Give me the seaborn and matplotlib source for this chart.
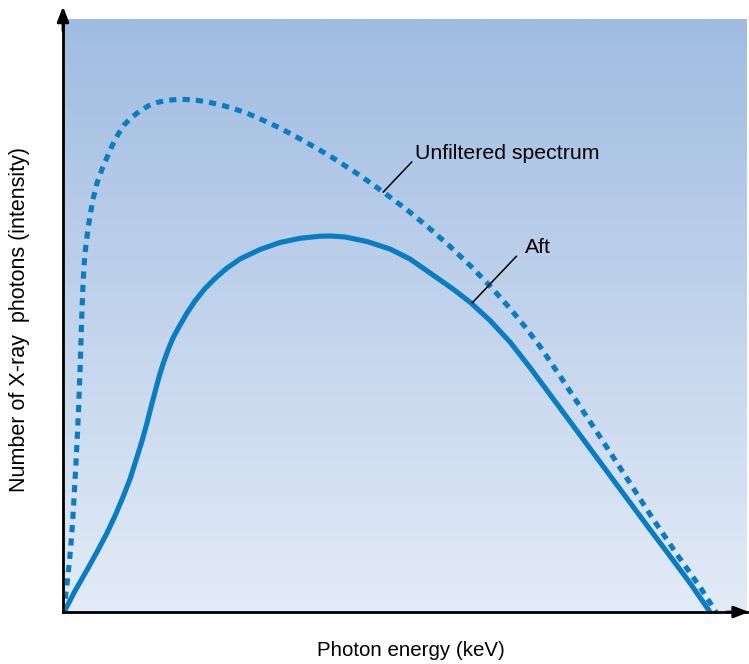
import numpy as np
import pandas as pd
import matplotlib
matplotlib.use("Agg")
import matplotlib.pyplot as plt
from matplotlib.colors import LinearSegmentedColormap
import seaborn as sns

# ---- data (arbitrary units 0-100) ----
unf_x = [0.15, 0.39, 0.66, 0.88, 1.10, 1.32, 1.51, 1.68, 1.84, 1.99,
         2.14, 2.27, 2.38, 2.49, 2.59, 2.68, 2.78, 2.89, 3.04, 3.22,
         3.44, 3.70, 4.00, 4.43, 4.93, 5.66, 6.39, 7.16, 8.08, 9.06,
         10.09, 11.26, 12.43, 13.74, 15.20, 17.11, 19.01, 21.05, 23.39, 25.44,
         27.34, 29.24, 31.29, 33.19, 35.09, 37.57, 39.77, 43.42, 46.78, 50.29,
         53.36, 56.58, 59.50, 62.43, 65.35, 67.54, 69.74, 72.66, 76.02, 79.53,
         82.89, 86.26, 89.77, 93.13, 95.47]
unf_y = [0.0, 2.87, 5.40, 7.93, 10.46, 13.83, 17.20, 20.57, 23.95, 27.32,
         30.69, 34.06, 37.44, 40.81, 44.18, 47.55, 50.93, 54.30, 57.67, 60.54,
         62.73, 64.92, 67.12, 69.81, 72.18, 74.54, 76.56, 78.58, 80.61, 82.29,
         83.47, 84.49, 85.33, 85.92, 86.29, 86.46, 86.37, 86.04, 85.41, 84.70,
         83.90, 82.93, 81.84, 80.71, 79.51, 77.88, 76.36, 73.61, 70.86, 67.82,
         64.92, 61.65, 58.45, 54.97, 51.20, 48.11, 44.77, 39.80, 33.90, 27.74,
         21.75, 15.68, 9.70, 4.22, 0.0]

aft_x = [0.15, 1.75, 3.51, 4.97, 6.43, 7.60, 8.77, 9.80, 10.82, 11.55,
         12.28, 12.87, 13.45, 14.04, 14.62, 15.35, 16.08, 17.11, 18.13, 19.30,
         20.76, 22.22, 23.98, 25.88, 28.80, 31.73, 34.65, 37.57, 39.04, 41.23,
         44.44, 47.81, 50.73, 54.09, 57.31, 59.65, 62.43, 65.35, 68.27, 71.20,
         74.12, 77.05, 79.97, 82.89, 85.82, 88.74, 91.67, 94.59]
aft_y = [0.0, 3.54, 7.08, 10.12, 13.32, 16.19, 19.39, 22.43, 26.14, 28.84,
         31.87, 34.57, 37.10, 39.63, 41.82, 44.18, 46.21, 48.40, 50.42, 52.45,
         54.55, 56.24, 58.01, 59.53, 61.13, 62.31, 63.02, 63.37, 63.41, 63.24,
         62.48, 61.21, 59.53, 56.83, 54.22, 52.11, 49.16, 45.53, 41.23, 36.68,
         32.13, 27.57, 23.02, 18.47, 13.91, 9.44, 4.89, 0.0]

labels = ["Unfiltered spectrum", "Aft"]
x_title = "Photon energy (keV)"
y_title = "Number of X-ray  photons (intensity)"

BLUE = "#0a7dc2"

sns.set_style("white")
plt.rcParams["font.family"] = ["Liberation Sans", "DejaVu Sans"]
plt.rcParams["text.color"] = "black"

fig = plt.figure(figsize=(7.49, 6.64), dpi=100)
W, H = 749, 664
ax = fig.add_axes([63 / W, (H - 612) / H, (747 - 63) / W, (612 - 19) / H])

# gradient background
cmap = LinearSegmentedColormap.from_list("bg", ["#e3ebf7", "#a0bce1"])
grad = np.linspace(0, 1, 256)[:, None]
ax.imshow(grad, extent=[0, 100, 0, 100], origin="lower", aspect="auto",
          cmap=cmap, zorder=0)

df_unf = pd.DataFrame({"x": unf_x, "y": unf_y})
df_aft = pd.DataFrame({"x": aft_x, "y": aft_y})
sns.lineplot(data=df_unf, x="x", y="y", ax=ax, color=BLUE, linewidth=3.7,
             linestyle=(0, (1.4, 1.2)), zorder=3)
sns.lineplot(data=df_aft, x="x", y="y", ax=ax, color=BLUE, linewidth=3.7,
             zorder=3, solid_capstyle="butt", solid_joinstyle="round")

ax.set_xlim(0, 100)
ax.set_ylim(0, 100)
ax.set_xticks([])
ax.set_yticks([])
ax.set_xlabel("")
ax.set_ylabel("")
for s in ["top", "right"]:
    ax.spines[s].set_visible(False)
for s in ["left", "bottom"]:
    ax.spines[s].set_color("black")
    ax.spines[s].set_linewidth(2.0)
    ax.spines[s].set_zorder(4)

# axis arrows
arrow_kw = dict(arrowstyle="-|>,head_length=0.9,head_width=0.35", color="black",
                lw=2.0, shrinkA=0, shrinkB=0)
ax.annotate("", xy=(0, 1.021), xytext=(0, 0.98), xycoords="axes fraction",
            arrowprops=arrow_kw, annotation_clip=False, zorder=5)
ax.annotate("", xy=(1.003, 0), xytext=(0.97, 0), xycoords="axes fraction",
            arrowprops=arrow_kw, annotation_clip=False, zorder=5)

# callouts
ax.plot([46.8, 51.0], [70.8, 75.9], color="black", lw=1.1, zorder=5)
ax.text(51.5, 77.4, labels[0], fontsize=15.3, va="center", ha="left",
        color="black", zorder=5)
ax.plot([59.8, 66.3], [52.1, 60.0], color="black", lw=1.1, zorder=5)
ax.text(67.5, 61.4, labels[1], fontsize=15.3, va="center", ha="left",
        color="black", zorder=5)

fig.text(411 / W, 1 - 650 / H, x_title, fontsize=14.8, ha="center",
         va="center", color="black")
fig.text(20 / W, 1 - 319 / H, y_title, fontsize=15.5, ha="center",
         va="center", rotation=90, color="black")

fig.savefig("out.png", dpi=100)
